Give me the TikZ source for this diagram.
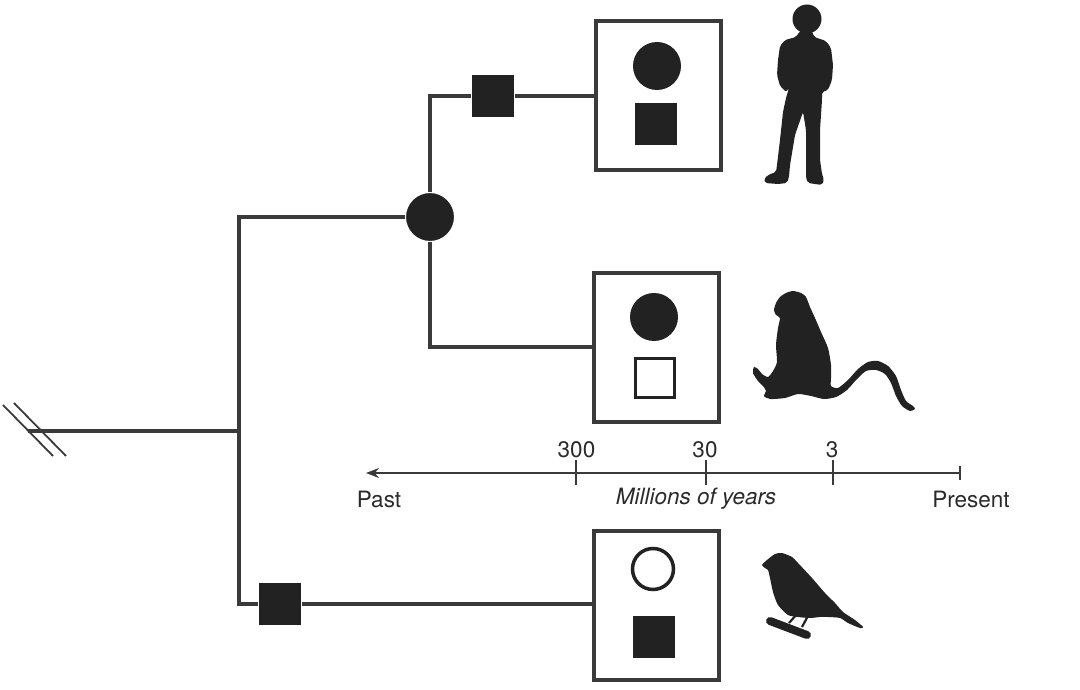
\documentclass[tikz,border=0pt]{standalone}
\usepackage{fontspec}
\setmainfont{TeX Gyre Heros}
\usetikzlibrary{arrows.meta}
\definecolor{ink}{HTML}{222222}
\definecolor{linec}{HTML}{3A3A3A}
\definecolor{txt}{HTML}{2A2A2A}
\begin{document}
\begin{tikzpicture}[x=1pt,y=-1pt,
  branch/.style={draw=linec, line width=3.2pt},
  thinline/.style={draw=linec, line width=1.8pt},
  taxon/.style={rectangle, draw=linec, line width=4pt, minimum width=125pt, minimum height=149pt, inner sep=0pt, outer sep=0pt, fill=white},
  fsq/.style={rectangle, fill=ink, minimum size=42pt, inner sep=0pt, outer sep=0pt},
  nodesq/.style={fsq, draw=white, line width=2pt, minimum size=44pt},
  osq/.style={rectangle, draw=ink, line width=3.5pt, minimum size=39pt, inner sep=0pt},
  fcirc/.style={circle, fill=ink, minimum size=48pt, inner sep=0pt, outer sep=0pt},
  ocirc/.style={circle, draw=ink, line width=3.5pt, minimum size=41pt, inner sep=0pt},
  lbl/.style={text=txt, font=\fontsize{22.5}{26}\selectfont, inner sep=0pt},
  sil/.style={fill=ink}
]
\useasboundingbox (0,0) rectangle (1080,690);

% taxon boxes
\node[taxon] (box1) at (658,95.5) {};
\node[taxon] (box2) at (656.5,347) {};
\node[taxon] (box3) at (656.5,605) {};
\node[fcirc] (b1c) at (657,66) {};
\node[fsq] (b1s) at (656,124) {};
\node[fcirc] (b2c) at (654,317) {};
\node[osq] (b2s) at (655,378) {};
\node[ocirc] (b3c) at (653,569) {};
\node[fsq] (b3s) at (654,637) {};

% tree nodes
\node[fcirc, draw=white, line width=2pt, minimum size=50pt] (c1) at (430,217) {};
\node[nodesq] (sq1) at (493,96) {};
\node[nodesq] (sq2) at (280,604) {};
\coordinate (brk) at (28,431);
\coordinate (j0) at (239,431);
\coordinate (vtop) at (239,217);
\coordinate (vbot) at (239,604);

% connectors
\draw[branch] (brk) -- (j0);
\draw[branch] (c1.west) -- (vtop) -- (vbot) -- (sq2.west);
\draw[branch] (sq2.east) -- (sq2.east -| box3.west);
\draw[branch] (c1.north) |- (sq1.west);
\draw[branch] (sq1.east) -- (sq1.east -| box1.west);
\draw[branch] (c1.south) |- (box2.west);

% break marks
\draw[thinline] (3,405) -- (53,456);
\draw[thinline] (14,403) -- (66,456);

% time axis
\coordinate (axE) at (960,473);
\coordinate (ax0) at (366,473);
\draw[thinline, -{Stealth[length=13pt,width=10pt]}] (axE) -- (ax0);
\coordinate (t300) at (576,473);
\coordinate (t30) at (706,473);
\coordinate (t3) at (833,473);
\draw[thinline] ([yshift=-12pt]t300) -- ([yshift=13pt]t300);
\draw[thinline] ([yshift=-12pt]t30) -- ([yshift=13pt]t30);
\draw[thinline] ([yshift=-12pt]t3) -- ([yshift=13pt]t3);
\draw[thinline] ([yshift=-7pt]axE) -- ([yshift=7pt]axE);
\node[lbl] (l300) at (576.5,450) {300};
\node[lbl] (l30) at (705,450) {30};
\node[lbl] (l3) at (832,450) {3};
\node[lbl] (past) at (379,499) {Past};
\node[lbl, font=\fontsize{22.5}{26}\selectfont\itshape] (myears) at (696,499) {Millions of years};
\node[lbl] (present) at (971,499) {Present};

% human silhouette
\fill[sil] (807,19) circle[radius=14.5pt];
\fill[sil, rounded corners=2pt] (800,31) -- (796,37) -- (785,40) -- (780,46) -- (778,60) -- (777,75) -- (780,86) -- (786,92) -- (789,88) -- (786,98)
  -- (783,112) -- (780,140) -- (777,165) -- (776,172) -- (768,175) -- (764,179) -- (765,183) -- (778,184) -- (787,183) -- (789,177)
  -- (790,165) -- (795,135) -- (803,112) -- (806,130) -- (806,170) -- (806,178) -- (808,183) -- (822,185) -- (824,180) -- (822,174)
  -- (820,160) -- (820,130) -- (822,100) -- (822,92) -- (828,90) -- (832,80) -- (833,65) -- (831,48) -- (826,41) -- (814,37) -- (812,31) -- cycle;

% monkey silhouette
\fill[sil] plot[smooth cycle, tension=0.4] coordinates {
  (774,310) (776,303) (780,297) (786,293) (793,291) (801,293) (806,297) (810,307) (815,318) (821,332) (828,348) (831,365) (831,378)
  (831,386) (838,388) (848,380) (858,369) (868,362) (878,361) (888,366) (896,376) (901,390) (906,401) (913,406) (915,409) (910,411)
  (902,406) (896,396) (891,383) (885,374) (876,370) (866,371) (857,379) (847,390) (836,397) (824,399) (811,396) (798,394) (785,398)
  (770,399) (764,396) (766,391) (763,386) (758,381) (753,373) (754,367) (758,369) (762,374) (768,377) (773,371) (777,362) (776,345)
  (778,328) (780,318) (776,315)};

% bird silhouette
\draw[ink, line width=2.2pt] (797,614) -- (789,623);
\draw[ink, line width=2.2pt] (809,614) -- (802,627);
\draw[ink, line width=8pt, line cap=round] (770,621) -- (807,635);
\fill[sil] plot[smooth cycle, tension=0.4] coordinates {
  (762,565) (767,560) (775,554) (782,553) (792,557) (798,563) (812,578) (825,593) (835,603) (843,612) (855,620) (863,627) (860,628)
  (848,623) (840,618) (828,617) (820,617) (810,618) (798,617) (788,615) (778,605) (773,592) (770,578) (768,570) (765,568)};
\end{tikzpicture}
\end{document}
